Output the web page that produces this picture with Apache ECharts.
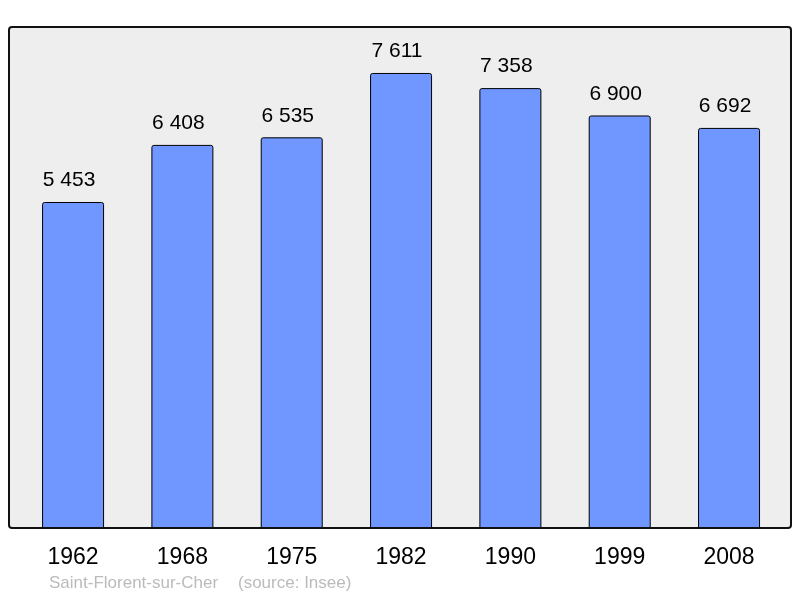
<!DOCTYPE html>
<html><head><meta charset="utf-8">
<script src="https://cdn.jsdelivr.net/npm/echarts@6/dist/echarts.min.js"></script>
<style>html,body{margin:0;padding:0;background:#fff}#c{width:800px;height:598px}</style>
</head><body><div id="c"></div>
<script>
var categories = ['1962','1968','1975','1982','1990','1999','2008'];
var population = [5453, 6408, 6535, 7611, 7358, 6900, 6692];
var yMax = 8380;
function fmt(v){ return String(v).replace(/\B(?=(\d{3})+(?!\d))/g, ' '); }
var chart = echarts.init(document.getElementById('c'));
chart.setOption({
  animation: false,
  backgroundColor: '#ffffff',
  graphic: [
    {type:'rect', z:-10, shape:{x:9,y:27,width:782,height:501,r:3}, style:{fill:'#eeeeee',stroke:'none'}},
    {type:'rect', z:100, shape:{x:9,y:27,width:782,height:501,r:3}, style:{fill:'none',stroke:'#111',lineWidth:2}},
    {type:'text', left:49, top:575, style:{text:'Saint-Florent-sur-Cher', fill:'#bbbbbb', font:'17px "Liberation Sans", Arial, sans-serif'}},
    {type:'text', left:238, top:575, style:{text:'(source: Insee)', fill:'#bbbbbb', font:'17px "Liberation Sans", Arial, sans-serif'}}
  ],
  grid: {left:18.4, right:16.3, top:27, bottom:70, containLabel:false},
  xAxis: {type:'category', data:categories, axisLine:{show:false}, axisTick:{show:false},
    axisLabel:{color:'#000', fontSize:23, fontFamily:'Liberation Sans, Arial, sans-serif', margin:18}},
  yAxis: {type:'value', min:0, max:yMax, show:false, splitLine:{show:false}},
  series: [{type:'bar', data:population, barWidth:62,
    itemStyle:{color:'#7096ff', borderColor:'#000', borderWidth:1, borderRadius:[2,2,0,0]},
    label:{show:true, position:'top', distance:11, offset:[-4,0], color:'#000', fontSize:21,
      fontFamily:'Liberation Sans, Arial, sans-serif', formatter:function(p){return fmt(p.value);}}}]
});
</script></body></html>
